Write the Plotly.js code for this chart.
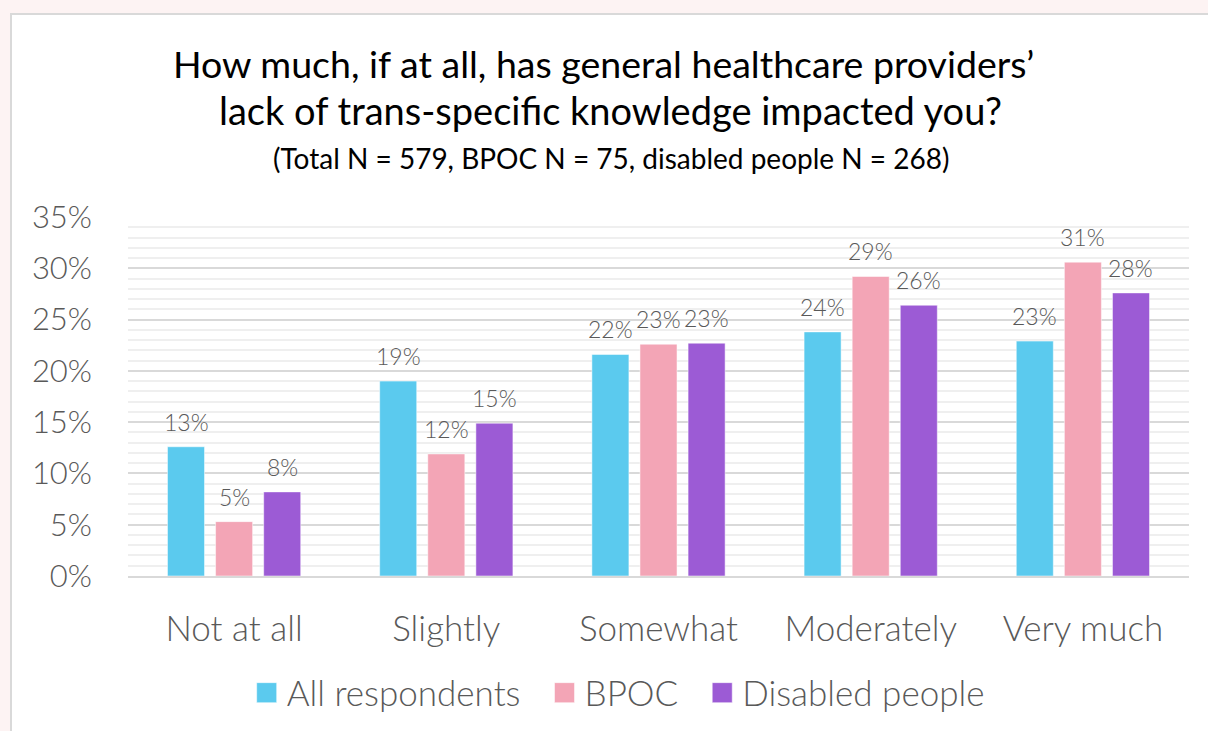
<!DOCTYPE html>
<html>
<head>
<meta charset="utf-8">
<script src="https://cdn.plot.ly/plotly-3.0.1.min.js"></script>
<style>
  html, body { margin:0; padding:0; background:#fdf3f3; overflow:hidden; width:1208px; height:731px; }
  #box { position:absolute; left:10px; top:13px; width:1198px; height:718px; border-left:2px solid #d9d9d9; border-top:2px solid #d9d9d9; background:#ffffff; }
  #chart { width:1198px; height:718px; }
</style>
</head>
<body>
<div id="box"><div id="chart"></div></div>
<script>
const categories = ["Not at all", "Slightly", "Somewhat", "Moderately", "Very much"];
const seriesNames = ["All respondents", "BPOC", "Disabled people"];
const allRespondents = [0.126, 0.19, 0.216, 0.238, 0.229];
const bpoc = [0.053, 0.119, 0.226, 0.292, 0.306];
const disabled = [0.082, 0.149, 0.227, 0.264, 0.276];
const colors = ["#5bcaee", "#f3a5b6", "#9c5bd5"];
const yTickVals = [0, 0.05, 0.10, 0.15, 0.20, 0.25, 0.30, 0.35];
const yTickText = ["0%", "5%", "10%", "15%", "20%", "25%", "30%", "35%"];

const FONT = "Lato, 'Open Sans', sans-serif";
const values = [allRespondents, bpoc, disabled];
const PAD = "\u00a0\u00a0";
const traces = values.map((v, i) => ({
  type: "bar",
  name: seriesNames[i] + (i < values.length - 1 ? PAD : ""),
  x: categories,
  y: v,
  marker: { color: colors[i], line: { color: "rgba(255,255,255,0.5)", width: 1 } },
  hoverinfo: "none"
}));

// value labels above bars (placed at each bar's data position)
const SLOT = 48;
const labelAnns = [];
values.forEach((v, i) => {
  v.forEach((val, j) => {
    labelAnns.push({
      x: categories[j], y: val, xref: "x", yref: "y",
      text: Math.round(val * 100) + "%",
      showarrow: false, xanchor: "center", yanchor: "bottom",
      xshift: (i - 1) * SLOT, yshift: 9,
      font: { family: FONT, size: 23, color: "#595959", weight: 300 }
    });
  });
});

const titleAnn = (text, shift, size, x) => ({
  text: text, xref: "paper", yref: "paper", x: x, y: 1, yshift: shift,
  showarrow: false, xanchor: "center", yanchor: "middle",
  font: { family: FONT, size: size, color: "#000000" }
});

const layout = {
  width: 1198, height: 718,
  margin: { l: 116, r: 21, t: 202, b: 156 },
  paper_bgcolor: "#ffffff",
  plot_bgcolor: "#ffffff",
  barmode: "group",
  bargap: 0.32,
  bargroupgap: 0.23,
  showlegend: true,
  legend: {
    orientation: "h", x: 0.462, xanchor: "center", y: -0.322, yanchor: "middle",
    font: { family: FONT, size: 35, color: "#595959", weight: 300 },
    itemwidth: 30
  },
  xaxis: {
    type: "category",
    showline: true, linecolor: "#d9d9d9", linewidth: 2,
    ticks: "", ticklabelstandoff: 21,
    tickfont: { family: FONT, size: 35, color: "#595959", weight: 300 },
    showgrid: false, zeroline: false
  },
  yaxis: {
    range: [0, 0.35],
    tickvals: yTickVals, ticktext: yTickText,
    tickfont: { family: FONT, size: 31, color: "#595959", weight: 300 },
    ticks: "", ticklabelstandoff: 35,
    showgrid: true, gridcolor: "#d9d9d9", gridwidth: 2,
    zeroline: false,
    minor: { dtick: 0.01, showgrid: true, gridcolor: "#efefef", gridwidth: 2 }
  },
  annotations: [
    titleAnn("How much, if at all, has general healthcare providers’", 154, 37.5, 0.448),
    titleAnn("lack of trans-specific knowledge impacted you?", 107, 38, 0.455),
    titleAnn("(Total N = 579, BPOC N = 75, disabled people N = 268)", 59, 28, 0.455)
  ].concat(labelAnns)
};

const fontLoads = [
  "300 35px Lato", "400 38px Lato", "300 23px Lato", "400 28px Lato"
].map(f => document.fonts.load(f).catch(() => null));

Promise.all(fontLoads).then(() => document.fonts.ready).then(() => {
  return Plotly.newPlot("chart", traces, layout, { displayModeBar: false, staticPlot: true });
}).then(() => {
  document.querySelectorAll("#chart .legendpoints path").forEach(p => {
    p.setAttribute("d", "M10,10H-10V-10H10Z");
  });
});
</script>
</body>
</html>
